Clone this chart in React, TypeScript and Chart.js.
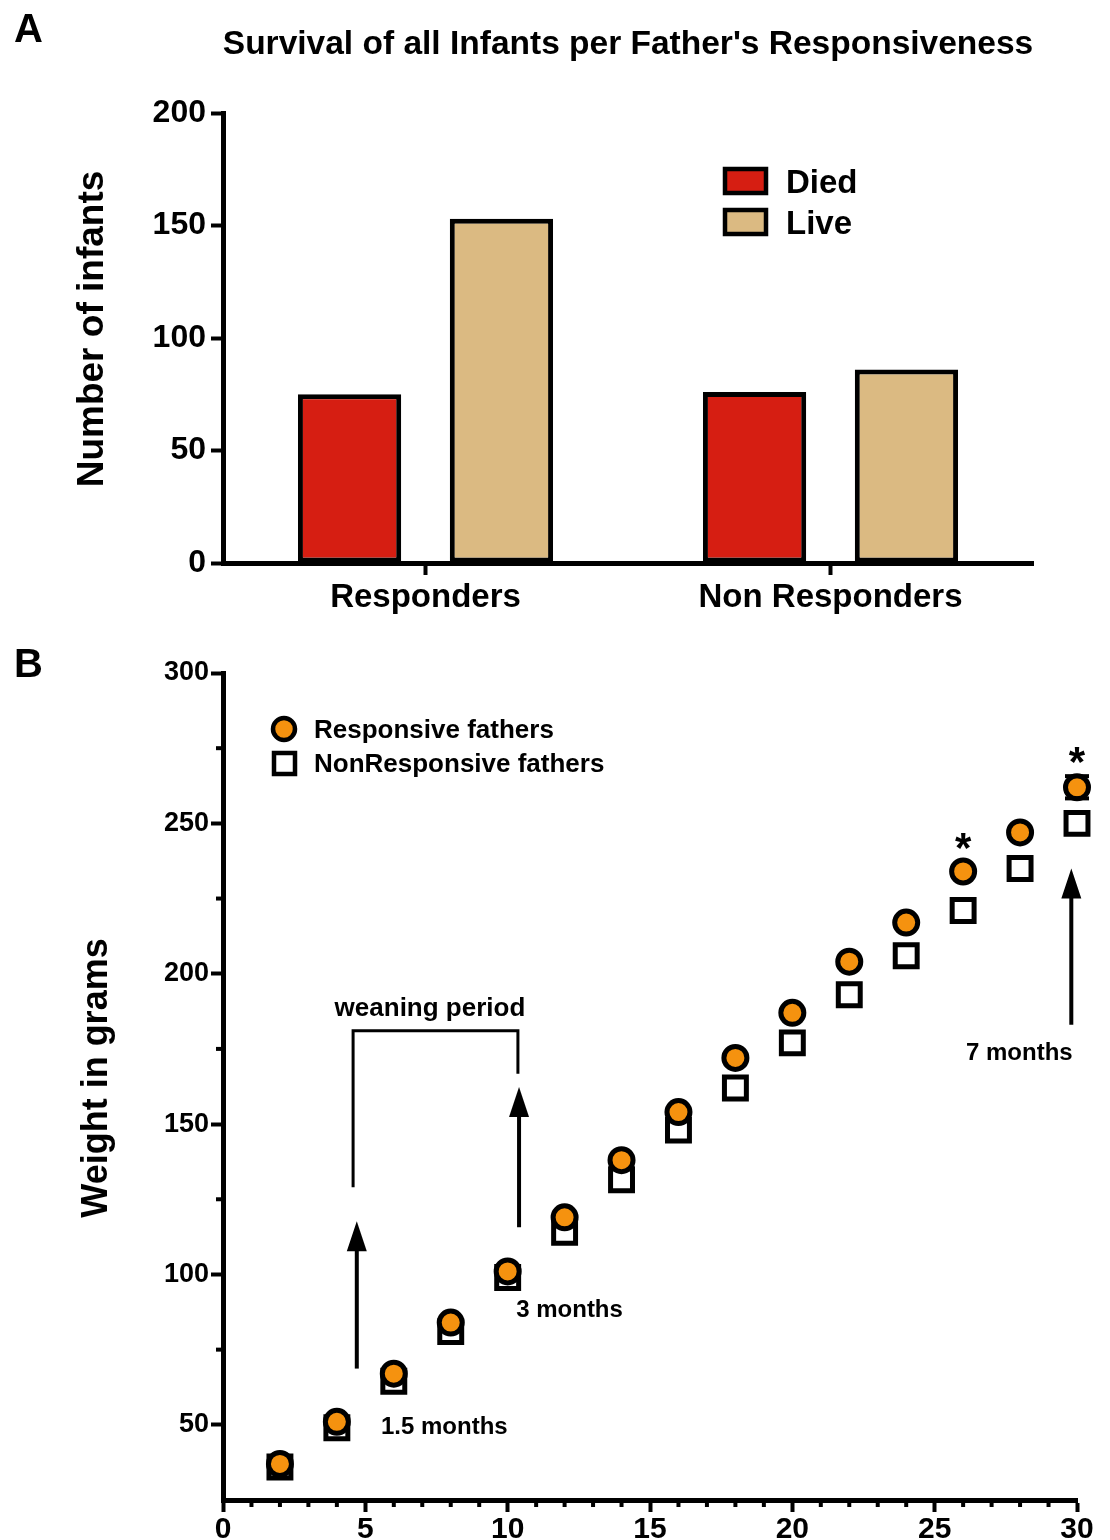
import React, { useEffect, useRef } from 'react';
import { Chart, registerables } from 'chart.js';

Chart.register(...registerables);

const FONT = '"Liberation Sans", Arial, Helvetica, sans-serif';
const RED = '#d61e12';
const TAN = '#dbba82';
const ORANGE = '#f5920f';

// ---------- Panel A data ----------
const titleA = "Survival of all Infants per Father's Responsiveness";
const yTitleA = 'Number of infants';
const categoriesA = ['Responders', 'Non Responders'];
const diedA = [75, 76];
const liveA = [153, 86];
const yTicksA = [0, 50, 100, 150, 200];

// ---------- Panel B data ----------
const yTitleB = 'Weight in grams';
const ageB = [2, 4, 6, 8, 10, 12, 14, 16, 18, 20, 22, 24, 26, 28, 30];
const responsiveB = [37, 51, 67, 84, 101, 119, 138, 154, 172, 187, 204, 217, 234, 247, 262];
const nonResponsiveB = [36, 49, 64.5, 81, 99, 114, 131.5, 148, 162, 177, 193, 206, 221, 235, 250];
const responsiveErrB = [0, 0, 0, 0, 0, 0, 0, 0, 0, 0, 0, 0, 0, 0, 3.7];
const xTicksB = [0, 5, 10, 15, 20, 25, 30];
const xMinorTicksB = [1, 2, 3, 4, 6, 7, 8, 9, 11, 12, 13, 14, 16, 17, 18, 19, 21, 22, 23, 24, 26, 27, 28, 29];
const yTicksB = [50, 100, 150, 200, 250, 300];
const yMinorTicksB = [75, 125, 175, 225, 275];

// annotations (data coordinates)
const asterisksB = [
  { x: 26, y: 245 },
  { x: 30, y: 273.7 },
];
const arrowsB = [
  { x: 4.7, from: 68.7, to: 117.7 },
  { x: 10.4, from: 115.7, to: 162.3 },
  { x: 29.8, from: 183, to: 235 },
];
const arrowLabelsB = [
  { x: 5.55, y: 49.7, text: '1.5 months' },
  { x: 10.3, y: 88.7, text: '3 months' },
  { x: 26.1, y: 174, text: '7 months' },
];
const weaningB = { x0: 4.57, x1: 10.36, top: 181, leftBottom: 129, rightBottom: 166.7, labelX: 7.27, labelY: 189, text: 'weaning period' };

function drawVerticalTitle(ctx: CanvasRenderingContext2D, text: string, cx: number, cy: number, size: number) {
  ctx.save();
  ctx.translate(cx, cy);
  ctx.rotate(-Math.PI / 2);
  ctx.fillStyle = '#000';
  ctx.font = `bold ${size}px ${FONT}`;
  ctx.textAlign = 'center';
  ctx.textBaseline = 'middle';
  ctx.fillText(text, 0, 0);
  ctx.restore();
}

const panelAPlugin = {
  id: 'panelA',
  afterDraw(chart: any) {
    const ctx = chart.ctx;
    const ca = chart.chartArea;
    ctx.save();
    ctx.fillStyle = '#000';
    ctx.textBaseline = 'alphabetic';
    ctx.textAlign = 'left';
    ctx.font = `bold 40px ${FONT}`;
    ctx.fillText('A', 14, 42);
    ctx.font = `bold 33.5px ${FONT}`;
    ctx.textAlign = 'center';
    ctx.fillText(titleA, (ca.left + ca.right) / 2, 54);
    drawVerticalTitle(ctx, yTitleA, 93, 329, 37);
    // legend
    chart.data.datasets.forEach((ds: any, i: number) => {
      const cy = 181 + i * 41;
      ctx.fillStyle = ds.backgroundColor;
      ctx.fillRect(725, cy - 12, 41, 24);
      ctx.lineWidth = 4.5;
      ctx.strokeStyle = '#000';
      ctx.strokeRect(725, cy - 12, 41, 24);
      ctx.fillStyle = '#000';
      ctx.textAlign = 'left';
      ctx.font = `bold 33px ${FONT}`;
      ctx.fillText(ds.label, 786, cy + 12);
    });
    ctx.restore();
  },
};

function drawArrow(ctx: CanvasRenderingContext2D, x: number, yFrom: number, yTip: number) {
  const headH = 30;
  const headW = 10;
  ctx.beginPath();
  ctx.moveTo(x, yFrom);
  ctx.lineTo(x, yTip + headH - 2);
  ctx.lineWidth = 4;
  ctx.strokeStyle = '#000';
  ctx.stroke();
  ctx.beginPath();
  ctx.moveTo(x, yTip);
  ctx.lineTo(x - headW, yTip + headH);
  ctx.lineTo(x + headW, yTip + headH);
  ctx.closePath();
  ctx.fillStyle = '#000';
  ctx.fill();
}

const panelBPlugin = {
  id: 'panelB',
  afterDatasetsDraw(chart: any) {
    const ctx = chart.ctx;
    const xs = chart.scales.x;
    const ys = chart.scales.y;
    ctx.save();
    ctx.strokeStyle = '#000';
    ctx.lineWidth = 4;
    responsiveErrB.forEach((e, i) => {
      if (!e) return;
      const px = xs.getPixelForValue(ageB[i]);
      [responsiveB[i] + e, responsiveB[i] - e].forEach((v) => {
        const py = ys.getPixelForValue(v);
        ctx.beginPath();
        ctx.moveTo(px - 12, py);
        ctx.lineTo(px + 12, py);
        ctx.stroke();
      });
    });
    ctx.restore();
  },
  afterDraw(chart: any) {
    const ctx = chart.ctx;
    const ca = chart.chartArea;
    const xs = chart.scales.x;
    const ys = chart.scales.y;
    ctx.save();
    // minor ticks
    ctx.strokeStyle = '#000';
    ctx.lineWidth = 4;
    xMinorTicksB.forEach((v) => {
      const px = xs.getPixelForValue(v);
      ctx.beginPath();
      ctx.moveTo(px, ca.bottom);
      ctx.lineTo(px, ca.bottom + 7);
      ctx.stroke();
    });
    yMinorTicksB.forEach((v) => {
      const py = ys.getPixelForValue(v);
      ctx.beginPath();
      ctx.moveTo(ca.left, py);
      ctx.lineTo(ca.left - 7, py);
      ctx.stroke();
    });

    ctx.fillStyle = '#000';
    ctx.textBaseline = 'alphabetic';
    ctx.textAlign = 'left';
    ctx.font = `bold 40px ${FONT}`;
    ctx.fillText('B', 14, 37);

    drawVerticalTitle(ctx, yTitleB, 97, 438, 36);

    // legend
    const dsResp = chart.data.datasets[0];
    const dsNon = chart.data.datasets[1];
    ctx.beginPath();
    ctx.arc(284, 89, 11, 0, Math.PI * 2);
    ctx.fillStyle = dsResp.pointBackgroundColor;
    ctx.fill();
    ctx.lineWidth = 4.5;
    ctx.strokeStyle = '#000';
    ctx.stroke();
    ctx.fillStyle = '#fff';
    ctx.fillRect(274, 113, 21, 21);
    ctx.strokeRect(274, 113, 21, 21);
    ctx.fillStyle = '#000';
    ctx.font = `bold 26px ${FONT}`;
    ctx.fillText(dsResp.label, 314, 98);
    ctx.fillText(dsNon.label, 314, 132);

    // weaning bracket
    const bx0 = xs.getPixelForValue(weaningB.x0);
    const bx1 = xs.getPixelForValue(weaningB.x1);
    const bt = ys.getPixelForValue(weaningB.top);
    ctx.lineWidth = 3;
    ctx.beginPath();
    ctx.moveTo(bx0, ys.getPixelForValue(weaningB.leftBottom));
    ctx.lineTo(bx0, bt);
    ctx.lineTo(bx1, bt);
    ctx.lineTo(bx1, ys.getPixelForValue(weaningB.rightBottom));
    ctx.stroke();
    ctx.textAlign = 'center';
    ctx.font = `bold 26px ${FONT}`;
    ctx.fillText(weaningB.text, xs.getPixelForValue(weaningB.labelX), ys.getPixelForValue(weaningB.labelY) + 9);

    // arrows
    arrowsB.forEach((a) => {
      drawArrow(ctx, xs.getPixelForValue(a.x), ys.getPixelForValue(a.from), ys.getPixelForValue(a.to));
    });
    ctx.fillStyle = '#000';
    ctx.textAlign = 'left';
    ctx.font = `bold 24px ${FONT}`;
    arrowLabelsB.forEach((l) => {
      ctx.fillText(l.text, xs.getPixelForValue(l.x), ys.getPixelForValue(l.y) + 8.5);
    });
    // asterisks
    ctx.textAlign = 'center';
    ctx.font = `bold 42px ${FONT}`;
    asterisksB.forEach((s) => {
      ctx.fillText('*', xs.getPixelForValue(s.x), ys.getPixelForValue(s.y) + 24);
    });
    ctx.restore();
  },
};

export default function App() {
  const refA = useRef<HTMLCanvasElement>(null);
  const refB = useRef<HTMLCanvasElement>(null);

  useEffect(() => {
    const chartA = new Chart(refA.current as HTMLCanvasElement, {
      type: 'bar',
      data: {
        labels: categoriesA,
        datasets: [
          { label: 'Died', data: diedA, backgroundColor: RED, borderColor: '#000', borderWidth: 5, borderSkipped: false },
          { label: 'Live', data: liveA, backgroundColor: TAN, borderColor: '#000', borderWidth: 5, borderSkipped: false },
        ],
      },
      options: {
        responsive: false,
        animation: false,
        events: [],
        categoryPercentage: 0.75,
        barPercentage: 0.68,
        layout: { padding: { top: 113, right: 77, left: 0, bottom: 0 } },
        plugins: { legend: { display: false }, tooltip: { enabled: false }, title: { display: false } },
        scales: {
          x: {
            type: 'category',
            offset: true,
            grid: { display: true, drawOnChartArea: false, drawTicks: true, tickLength: 12, tickWidth: 4, tickColor: '#000', offset: false },
            border: { display: true, color: '#000', width: 5 },
            ticks: { color: '#000', padding: 3, font: { family: FONT, size: 33, weight: 'bold' } },
            afterFit: (s: any) => { s.height = 57; },
          },
          y: {
            min: 0,
            max: 200,
            afterBuildTicks: (s: any) => { s.ticks = yTicksA.map((v) => ({ value: v })); },
            grid: { display: true, drawOnChartArea: false, drawTicks: true, tickLength: 12, tickWidth: 4, tickColor: '#000' },
            border: { display: true, color: '#000', width: 5 },
            ticks: { color: '#000', padding: 5, font: { family: FONT, size: 32, weight: 'bold' } },
            afterFit: (s: any) => { s.width = 223; },
          },
        },
      } as any,
      plugins: [panelAPlugin],
    });

    const chartB = new Chart(refB.current as HTMLCanvasElement, {
      type: 'scatter',
      data: {
        datasets: [
          {
            label: 'Responsive fathers',
            data: ageB.map((x, i) => ({ x, y: responsiveB[i] })),
            pointStyle: 'circle',
            pointRadius: 11.5,
            pointBackgroundColor: ORANGE,
            pointBorderColor: '#000',
            pointBorderWidth: 5,
            clip: false,
          },
          {
            label: 'NonResponsive fathers',
            data: ageB.map((x, i) => ({ x, y: nonResponsiveB[i] })),
            pointStyle: 'rect',
            pointRadius: 15.5,
            pointBackgroundColor: '#fff',
            pointBorderColor: '#000',
            pointBorderWidth: 5,
            clip: false,
          },
        ],
      },
      options: {
        responsive: false,
        animation: false,
        events: [],
        layout: { padding: { top: 33, right: 33, left: 0, bottom: 0 } },
        plugins: { legend: { display: false }, tooltip: { enabled: false } },
        scales: {
          x: {
            type: 'linear',
            min: 0,
            max: 30,
            afterBuildTicks: (s: any) => { s.ticks = xTicksB.map((v) => ({ value: v })); },
            grid: { display: true, drawOnChartArea: false, drawTicks: true, tickLength: 12, tickWidth: 4, tickColor: '#000' },
            border: { display: true, color: '#000', width: 5 },
            ticks: { color: '#000', padding: 0, font: { family: FONT, size: 30, weight: 'bold' } },
            afterFit: (s: any) => { s.height = 40; },
          },
          y: {
            type: 'linear',
            min: 25,
            max: 300,
            afterBuildTicks: (s: any) => { s.ticks = yTicksB.map((v) => ({ value: v })); },
            grid: { display: true, drawOnChartArea: false, drawTicks: true, tickLength: 12, tickWidth: 4, tickColor: '#000' },
            border: { display: true, color: '#000', width: 5 },
            ticks: { color: '#000', padding: 2, font: { family: FONT, size: 27, weight: 'bold' } },
            afterFit: (s: any) => { s.width = 223; },
          },
        },
      } as any,
      plugins: [panelBPlugin],
    });

    return () => {
      chartA.destroy();
      chartB.destroy();
    };
  }, []);

  return (
    <div style={{ position: 'absolute', left: 0, top: 0, width: 1110, height: 1540, background: '#fff' }}>
      <canvas ref={refA} width={1110} height={620} style={{ position: 'absolute', left: 0, top: 0, width: 1110, height: 620 }} />
      <canvas ref={refB} width={1110} height={900} style={{ position: 'absolute', left: 0, top: 640, width: 1110, height: 900 }} />
    </div>
  );
}
